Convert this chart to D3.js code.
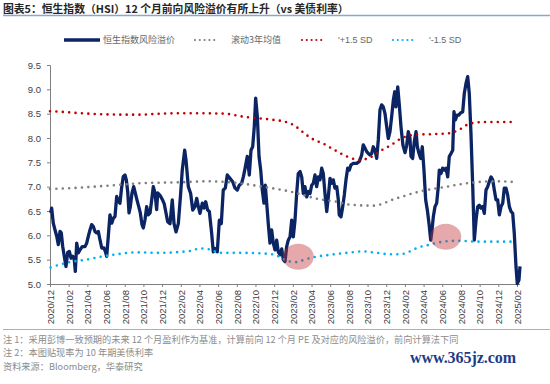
<!DOCTYPE html>
<html>
<head>
<meta charset="utf-8">
<script src="https://cdn.jsdelivr.net/npm/d3@7"></script>
<style>
  body { margin: 0; background: #fff; }
  svg { display: block; font-family: "Liberation Sans", Arial, sans-serif; }
</style>
</head>
<body>
<svg width="550" height="384"></svg>
<script>
// --------------- //
// DATA //
// --------------- //
// x = months since 2020/12
let tickLabels = ["2020/12", "2021/02", "2021/04", "2021/06", "2021/08", "2021/10", "2021/12",
    "2022/02", "2022/04", "2022/06", "2022/08", "2022/10", "2022/12",
    "2023/02", "2023/04", "2023/06", "2023/08", "2023/10", "2023/12",
    "2024/02", "2024/04", "2024/06", "2024/08", "2024/10", "2024/12", "2025/02"]
let yTicks = [5.0, 5.5, 6.0, 6.5, 7.0, 7.5, 8.0, 8.5, 9.0, 9.5]

// 恒生指数风险溢价
let premium = [
    [0.07, 6.46], [0.18, 6.56], [0.35, 6.25], [0.54, 6.11], [0.72, 5.98], [0.89, 5.81], [1.07, 6.08],
    [1.21, 6.05], [1.36, 5.77], [1.53, 5.57], [1.71, 5.36], [1.90, 5.65], [2.07, 5.67], [2.25, 5.53],
    [2.43, 5.57], [2.60, 5.50], [2.71, 5.26], [2.86, 5.84], [3.03, 5.64], [3.21, 5.70], [3.46, 5.77],
    [3.75, 5.77], [3.93, 5.84], [4.10, 5.98], [4.28, 6.11], [4.46, 6.22], [4.64, 6.18], [4.82, 6.08],
    [5.00, 6.05], [5.17, 6.08], [5.35, 5.91], [5.54, 5.74], [5.78, 5.74], [5.92, 5.67], [6.07, 5.57],
    [6.24, 5.98], [6.42, 6.42], [6.61, 6.25], [6.78, 6.35], [6.96, 6.39], [7.14, 6.80], [7.31, 6.70],
    [7.49, 6.66], [7.68, 7.00], [7.85, 7.21], [8.03, 7.24], [8.17, 7.14], [8.32, 6.90], [8.46, 6.46],
    [8.60, 6.59], [8.78, 6.87], [8.96, 7.00], [9.13, 6.87], [9.31, 6.73], [9.50, 6.59], [9.67, 6.46],
    [9.85, 6.22], [9.99, 6.15], [10.17, 6.32], [10.35, 6.59], [10.52, 6.42], [10.71, 6.46], [10.89, 6.73],
    [11.06, 7.00], [11.24, 6.87], [11.42, 6.53], [11.53, 6.87], [11.78, 6.82], [12.07, 6.72], [12.24, 6.64],
    [12.42, 6.46], [12.60, 6.28], [12.85, 6.24], [13.09, 6.73], [13.28, 6.24], [13.49, 6.07], [13.74, 6.24],
    [13.99, 6.86], [14.16, 7.34], [14.42, 7.75], [14.56, 7.55], [14.81, 7.00], [15.06, 6.86], [15.28, 6.52],
    [15.52, 6.59], [15.71, 6.76], [15.88, 6.59], [16.06, 6.45], [16.31, 6.66], [16.49, 6.56], [16.67, 6.69],
    [16.88, 6.52], [17.06, 6.49], [17.31, 6.04], [17.48, 5.66], [17.67, 5.73], [17.91, 5.66], [18.13, 6.31],
    [18.34, 6.24], [18.55, 6.93], [18.77, 6.97], [18.98, 7.24], [19.27, 7.17], [19.56, 7.10], [19.81, 6.97],
    [20.05, 6.93], [20.27, 7.03], [20.52, 7.07], [20.70, 7.20], [20.88, 7.37], [21.12, 7.62], [21.34, 7.24],
    [21.52, 7.75], [21.70, 7.82], [21.87, 8.23], [22.02, 8.82], [22.20, 8.44], [22.38, 7.62], [22.56, 7.34],
    [22.73, 6.93], [22.91, 6.66], [23.05, 7.03], [23.20, 6.66], [23.37, 6.24], [23.55, 5.84], [23.73, 6.11],
    [23.91, 5.84], [24.09, 5.70], [24.27, 5.90], [24.44, 5.66], [24.63, 5.60], [24.81, 5.72], [24.98, 5.50],
    [25.16, 5.46], [25.34, 5.77], [25.51, 5.90], [25.70, 5.97], [25.88, 6.31], [26.05, 5.97], [26.23, 6.31],
    [26.41, 6.86], [26.58, 7.27], [26.77, 7.31], [26.95, 7.20], [27.12, 6.86], [27.30, 7.00], [27.48, 6.79],
    [27.66, 6.90], [27.84, 6.86], [28.02, 7.03], [28.19, 7.07], [28.37, 7.24], [28.55, 7.00], [28.73, 7.20],
    [28.91, 7.14], [29.09, 7.38], [29.26, 7.27], [29.44, 6.86], [29.63, 6.49], [29.80, 6.79], [29.98, 7.17],
    [30.16, 7.07], [30.33, 7.14], [30.51, 6.97], [30.70, 7.00], [30.87, 6.73], [30.97, 6.42], [31.16, 6.38],
    [31.34, 6.59], [31.51, 6.83], [31.69, 7.14], [31.87, 7.38], [32.04, 7.34], [32.23, 7.45], [32.47, 7.48],
    [32.84, 7.48], [33.12, 7.52], [33.37, 7.65], [33.54, 7.86], [33.73, 7.79], [33.91, 7.72], [34.08, 7.68],
    [34.26, 7.65], [34.44, 7.68], [34.61, 7.82], [34.80, 7.75], [34.98, 7.58], [35.15, 7.96], [35.33, 8.58],
    [35.51, 8.68], [35.68, 8.64], [35.87, 8.50], [36.05, 8.23], [36.22, 7.99], [36.40, 8.13], [36.58, 8.44],
    [36.76, 8.78], [36.91, 8.95], [37.04, 8.64], [37.23, 9.05], [37.40, 8.68], [37.58, 8.23], [37.79, 7.85],
    [38.01, 7.70], [38.19, 7.85], [38.36, 8.13], [38.54, 7.99], [38.65, 7.62], [38.83, 7.58], [39.00, 7.92],
    [39.19, 8.13], [39.33, 7.82], [39.51, 7.68], [39.69, 7.58], [39.86, 7.82], [40.04, 7.34], [40.22, 6.73],
    [40.40, 6.52], [40.58, 6.24], [40.76, 5.90], [40.90, 6.11], [41.04, 6.38], [41.22, 6.59], [41.40, 6.66],
    [41.57, 7.00], [41.68, 7.34], [41.86, 7.27], [42.04, 7.38], [42.22, 7.34], [42.40, 7.38], [42.58, 7.20],
    [42.75, 7.62], [42.93, 7.68], [43.12, 7.75], [43.25, 8.54], [43.40, 8.37], [43.58, 8.47], [43.76, 8.47],
    [43.93, 8.51], [44.19, 8.54], [44.36, 8.92], [44.54, 9.12], [44.72, 9.26], [44.89, 8.92], [45.07, 8.10],
    [45.26, 7.00], [45.43, 5.90], [45.61, 6.31], [45.79, 6.59], [45.96, 6.62], [46.15, 6.56], [46.33, 6.59],
    [46.50, 6.45], [46.68, 6.93], [46.86, 7.00], [47.03, 7.10], [47.22, 7.20], [47.40, 7.14], [47.57, 6.93],
    [47.75, 6.73], [47.93, 6.73], [48.11, 6.42], [48.29, 6.59], [48.47, 6.66], [48.64, 6.97], [48.82, 6.97],
    [49.00, 6.83], [49.18, 6.59], [49.36, 6.49], [49.54, 6.45], [49.71, 6.04], [49.89, 5.36], [50.03, 5.01],
    [50.21, 5.08], [50.32, 5.36]
]

// 滚动3年均值
let rollingMean = [
    [0, 6.95], [3.2, 6.98], [7.5, 7.04], [9.6, 7.07], [14, 7.09], [16.9, 7.11], [20.3, 7.07],
    [22.4, 7.01], [25.7, 6.90], [28.9, 6.74], [30.7, 6.69], [32.1, 6.63], [34.6, 6.61], [37.1, 6.76],
    [39.6, 6.90], [42.5, 7.00], [45, 7.08], [47.8, 7.11], [50.1, 7.09]
]

// +1.5 SD
let upperBand = [
    [0, 8.55], [1.1, 8.54], [3.2, 8.51], [5.4, 8.49], [7.5, 8.48], [9.6, 8.48], [11.8, 8.50],
    [15, 8.51], [18.7, 8.50], [20.3, 8.45], [21.4, 8.42], [23.6, 8.38], [25.4, 8.32], [26.3, 8.24],
    [27, 8.13], [28.2, 7.97], [29.3, 7.88], [30.5, 7.75], [31.8, 7.62], [33.2, 7.55], [34.5, 7.62],
    [35.5, 7.75], [36.4, 7.84], [37.5, 7.98], [38.3, 8.04], [39.3, 8.07], [41.0, 8.08], [42.8, 8.10],
    [43.9, 8.18], [45, 8.30], [46.8, 8.33], [49.8, 8.33]
]

// -1.5 SD
let lowerBand = [
    [0.07, 5.34], [2.1, 5.45], [3.9, 5.50], [5.7, 5.57], [7.5, 5.62], [9.3, 5.65], [11.8, 5.64],
    [14, 5.66], [15, 5.68], [16.1, 5.73], [17.1, 5.71], [18.2, 5.64], [20.3, 5.64], [22.5, 5.63],
    [24.1, 5.60], [24.8, 5.53], [25.5, 5.47], [26.4, 5.45], [27.1, 5.49], [28.2, 5.55], [30, 5.60],
    [31.8, 5.64], [33.5, 5.67], [35, 5.64], [36.4, 5.61], [37.5, 5.61], [38.3, 5.65], [39.3, 5.74],
    [40.7, 5.81], [42.1, 5.87], [43.9, 5.89], [45.7, 5.87], [48.2, 5.87], [49.8, 5.87]
]

// highlighted spots
let highlights = [[26.58, 5.56], [42.37, 5.97]]

let legendItems = ["恒生指数风险溢价", "滚动3年均值", "'+1.5 SD", "'-1.5 SD"]
let notes = [
    "注 1：采用彭博一致预期的未来 12 个月盈利作为基准，计算前向 12 个月 PE 及对应的风险溢价，前向计算法下同",
    "注 2：本图贴现率为 10 年期美债利率",
    "资料来源：Bloomberg，华泰研究"
]

// --------------- //
// SETUP //
// --------------- //
let svg = d3.select("svg")
let cjk = '"Noto Sans CJK SC", "Noto Sans", sans-serif'

let x = d3.scaleLinear()
    .domain([0, 50])
    .range([50, 517])

let y = d3.scaleLinear()
    .domain([5, 9.5])
    .range([284, 65])

let line = d3.line()
    .x(d => x(d[0]))
    .y(d => y(d[1]))

// --------------- //
// TITLE //
// --------------- //
svg.append("text")
    .attr("x", 3)
    .attr("y", 13)
    .style("font-family", cjk)
    .style("font-size", "10.8px")
    .style("font-weight", "bold")
    .style("fill", "#262626")
    .text("图表5：恒生指数（HSI）12 个月前向风险溢价有所上升（vs 美债利率）")

svg.append("line")
    .attr("x1", 3).attr("x2", 550)
    .attr("y1", 15.5).attr("y2", 15.5)
    .attr("stroke", "#8ea7c9")
    .attr("stroke-width", 1.5)

// --------------- //
// AXES //
// --------------- //
let xAxis = d3.axisBottom(x)
    .tickValues(tickLabels.map((d, i) => i * 2))
    .tickSize(3)
    .tickFormat((d, i) => tickLabels[i])

let gx = svg.append("g")
    .attr("transform", "translate(0,284)")
    .call(xAxis)
gx.select(".domain").attr("stroke", "#7f7f7f").attr("d", "M50,0.5H520")
gx.selectAll(".tick line").attr("stroke", "#7f7f7f")
gx.selectAll(".tick text")
    .attr("transform", "rotate(-90)")
    .attr("x", -6)
    .attr("y", 0)
    .attr("dy", "0.35em")
    .attr("text-anchor", "end")
    .style("font-size", "9.5px")
    .style("font-family", '"Liberation Sans", Arial, sans-serif')
    .style("fill", "#404040")

let yAxis = d3.axisLeft(y)
    .tickValues(yTicks)
    .tickSize(3)
    .tickFormat(d3.format(".1f"))

let gy = svg.append("g")
    .attr("transform", "translate(50,0)")
    .call(yAxis)
gy.select(".domain").attr("stroke", "#7f7f7f")
gy.selectAll(".tick line").attr("stroke", "#7f7f7f")
gy.selectAll(".tick text")
    .attr("x", -9)
    .style("font-size", "9.5px")
    .style("font-family", '"Liberation Sans", Arial, sans-serif')
    .style("fill", "#404040")

// --------------- //
// LINES //
// --------------- //
svg.append("path")
    .datum(premium)
    .attr("fill", "none")
    .attr("stroke", "#0b2463")
    .attr("stroke-width", 3.3)
    .attr("stroke-linejoin", "round")
    .attr("d", line)

let dotted = [
    { data: rollingMean, color: "#7f7f7f" },
    { data: upperBand, color: "#c00000" },
    { data: lowerBand, color: "#00b0f0" }
]

dotted.forEach(s => {
    svg.append("path")
        .datum(s.data)
        .attr("fill", "none")
        .attr("stroke", s.color)
        .attr("stroke-width", 2.6)
        .attr("stroke-linecap", "round")
        .attr("stroke-dasharray", "0 6.4")
        .attr("d", line.curve(d3.curveMonotoneX))
})
line.curve(d3.curveLinear)

// highlighted spots
svg.selectAll("ellipse.hl")
    .data(highlights)
    .enter()
    .append("ellipse")
    .attr("class", "hl")
    .attr("cx", d => x(d[0]))
    .attr("cy", d => y(d[1]))
    .attr("rx", 15.5)
    .attr("ry", 13)
    .attr("fill", "#c13337")
    .attr("fill-opacity", 0.42)

// --------------- //
// LEGEND //
// --------------- //
let legend = svg.append("g").attr("transform", "translate(0,40)")
let legendX = [64, 194, 301, 392]
let legendColors = ["#0b2463", "#7f7f7f", "#c00000", "#00b0f0"]

legendItems.forEach((name, i) => {
    let lx = legendX[i]
    if (i === 0) {
        legend.append("line")
            .attr("x1", lx).attr("x2", lx + 36)
            .attr("stroke", legendColors[i])
            .attr("stroke-width", 3.5)
    } else {
        legend.append("line")
            .attr("x1", lx + 1).attr("x2", lx + 25)
            .attr("stroke", legendColors[i])
            .attr("stroke-width", 2.2)
            .attr("stroke-linecap", "round")
            .attr("stroke-dasharray", "0 4.8")
    }
    legend.append("text")
        .attr("x", i === 0 ? lx + 39 : lx + 37)
        .attr("y", 0)
        .attr("dy", "0.35em")
        .style("font-family", i >= 2 ? '"Liberation Sans", Arial, sans-serif' : cjk)
        .style("font-size", "9px")
        .style("fill", "#666")
        .text(name)
})

// --------------- //
// FOOTER //
// --------------- //
svg.append("line")
    .attr("x1", 3).attr("x2", 550)
    .attr("y1", 329.5).attr("y2", 329.5)
    .attr("stroke", "#9fb3cf")
    .attr("stroke-width", 1)

svg.selectAll("text.note")
    .data(notes)
    .enter()
    .append("text")
    .attr("class", "note")
    .attr("x", 3)
    .attr("y", (d, i) => 342.5 + i * 13.7)
    .style("font-family", cjk)
    .style("font-size", "9.2px")
    .style("fill", "#8c8c8c")
    .text(d => d)

svg.append("text")
    .attr("x", 410)
    .attr("y", 363)
    .attr("textLength", 106)
    .style("font-family", '"Liberation Serif", "DejaVu Serif", serif')
    .style("font-size", "16px")
    .style("font-weight", "bold")
    .style("fill", "#1f3c88")
    .text("www.365jz.com")
</script>
</body>
</html>
